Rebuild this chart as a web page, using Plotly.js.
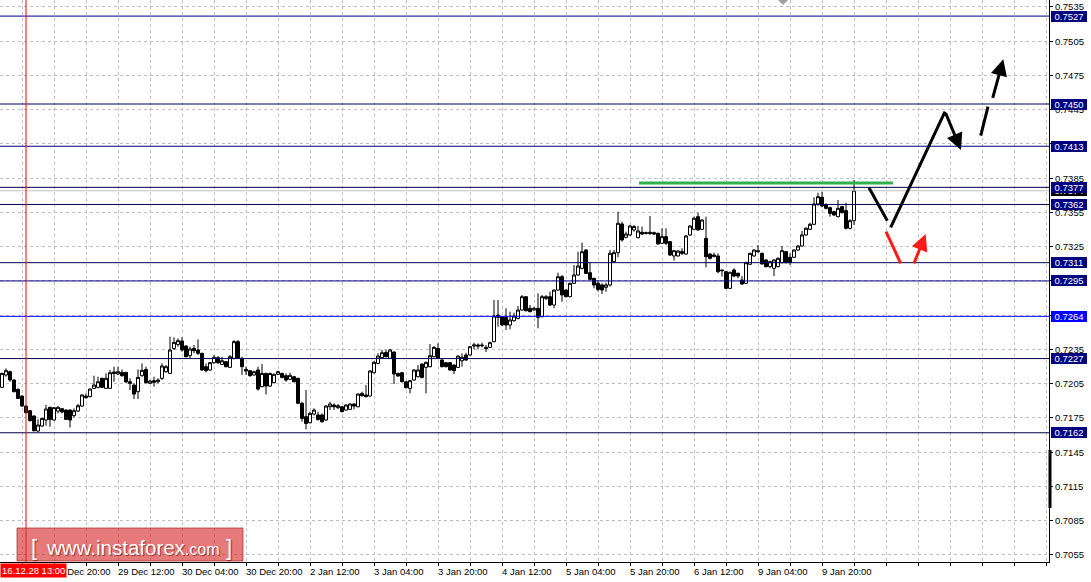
<!DOCTYPE html>
<html><head><meta charset="utf-8">
<script src="https://cdn.plot.ly/plotly-3.0.1.min.js"></script>
<style>html,body{margin:0;padding:0;background:#fff;overflow:hidden;} #chart{width:1091px;height:582px;}</style>
</head><body><div id="chart"></div>
<script>
// ---- Data (H1 candles) ----
const openP = [
0.72018,0.72126,0.72155,0.72082,0.72000,0.71942,0.71854,0.71813,0.71767,0.71635,
0.71679,0.71732,0.71843,0.71732,0.71810,0.71831,0.71819,0.71819,0.71770,0.71810,
0.71854,0.71942,0.71936,0.72009,0.72018,0.72097,0.72009,0.72009,0.72152,0.72135,
0.72149,0.72149,0.72067,0.72038,0.71980,0.72120,0.72175,0.72053,0.72076,0.72067,
0.72097,0.72155,0.72140,0.72359,0.72394,0.72424,0.72380,0.72295,0.72359,0.72345,
0.72316,0.72199,0.72170,0.72234,0.72278,0.72219,0.72243,0.72193,0.72272,0.72418,
0.72272,0.72175,0.72164,0.72126,0.72170,0.72024,0.72140,0.72029,0.72059,0.72132,
0.72140,0.72120,0.72088,0.72111,0.72097,0.71878,0.71761,0.71708,0.71784,0.71776,
0.71776,0.71732,0.71848,0.71863,0.71840,0.71848,0.71819,0.71825,0.71872,0.71848,
0.71965,0.71951,0.71942,0.72146,0.72228,0.72278,0.72324,0.72272,0.72327,0.72140,
0.72146,0.72067,0.72009,0.72082,0.72111,0.72222,0.72193,0.72199,0.72286,0.72359,
0.72257,0.72234,0.72234,0.72213,0.72193,0.72251,0.72301,0.72301,0.72380,0.72389,
0.72389,0.72368,0.72368,0.72418,0.72651,0.72637,0.72631,0.72564,0.72602,0.72622,
0.72695,0.72812,0.72710,0.72695,0.72710,0.72637,0.72797,0.72812,0.72739,0.72870,
0.72987,0.72870,0.72812,0.72929,0.73002,0.73060,0.73221,0.73022,0.72973,0.72929,
0.72915,0.72894,0.72915,0.73119,0.73198,0.73449,0.73332,0.73353,0.73396,0.73329,
0.73376,0.73373,0.73376,0.73373,0.73367,0.73280,0.73338,0.73294,0.73169,0.73169,
0.73207,0.73186,0.73353,0.73402,0.73513,0.73402,0.73323,0.73186,0.73163,0.73169,
0.73046,0.73031,0.72885,0.73046,0.73017,0.72958,0.72929,0.73096,0.73169,0.73215,
0.73192,0.73134,0.73075,0.73061,0.73075,0.73110,0.73207,0.73157,0.73157,0.73221,
0.73256,0.73353,0.73402,0.73446,0.73624,0.73683,0.73615,0.73592,0.73557,0.73513,
0.73601,0.73566,0.73411,0.73478];
const highP = [
0.72146,0.72184,0.72164,0.72088,0.72009,0.71948,0.71860,0.71819,0.71772,0.71738,
0.71752,0.71863,0.71848,0.71845,0.71854,0.71837,0.71825,0.71825,0.71834,0.71872,
0.71956,0.71965,0.72009,0.72120,0.72111,0.72102,0.72140,0.72170,0.72199,0.72199,
0.72175,0.72155,0.72097,0.72053,0.72175,0.72228,0.72199,0.72082,0.72111,0.72097,
0.72228,0.72213,0.72462,0.72456,0.72447,0.72456,0.72386,0.72374,0.72389,0.72438,
0.72321,0.72228,0.72240,0.72301,0.72292,0.72286,0.72248,0.72301,0.72432,0.72432,
0.72286,0.72199,0.72170,0.72164,0.72199,0.72222,0.72146,0.72146,0.72140,0.72164,
0.72146,0.72140,0.72146,0.72117,0.72102,0.71892,0.71994,0.71805,0.71834,0.71805,
0.71790,0.71863,0.71892,0.71878,0.71872,0.71854,0.71872,0.71878,0.71878,0.71965,
0.71980,0.72038,0.72170,0.72248,0.72316,0.72345,0.72345,0.72354,0.72333,0.72146,
0.72152,0.72073,0.72082,0.72176,0.72213,0.72228,0.72243,0.72397,0.72380,0.72403,
0.72272,0.72240,0.72240,0.72219,0.72298,0.72316,0.72321,0.72380,0.72409,0.72403,
0.72409,0.72389,0.72418,0.72783,0.72783,0.72643,0.72710,0.72681,0.72672,0.72730,
0.72827,0.72818,0.72739,0.72724,0.72841,0.72827,0.72827,0.72856,0.72876,0.73022,
0.73002,0.72876,0.72935,0.73089,0.73206,0.73285,0.73227,0.73110,0.72978,0.72958,
0.72929,0.72935,0.73221,0.73221,0.73557,0.73469,0.73382,0.73440,0.73440,0.73431,
0.73426,0.73382,0.73519,0.73382,0.73373,0.73411,0.73411,0.73300,0.73221,0.73221,
0.73236,0.73353,0.73440,0.73513,0.73548,0.73490,0.73513,0.73192,0.73198,0.73192,
0.73046,0.73037,0.73031,0.73061,0.73023,0.72993,0.73119,0.73198,0.73227,0.73265,
0.73198,0.73139,0.73128,0.73139,0.73157,0.73256,0.73212,0.73192,0.73227,0.73265,
0.73388,0.73420,0.73461,0.73683,0.73723,0.73732,0.73630,0.73601,0.73566,0.73659,
0.73607,0.73636,0.73490,0.73834];
const lowP = [
0.72012,0.72111,0.72067,0.71974,0.71916,0.71848,0.71790,0.71720,0.71632,0.71629,
0.71673,0.71682,0.71673,0.71726,0.71790,0.71790,0.71732,0.71667,0.71755,0.71802,
0.71848,0.71921,0.71930,0.72003,0.72009,0.72012,0.72003,0.72003,0.72067,0.72126,
0.72111,0.72059,0.71994,0.71916,0.71916,0.72111,0.72053,0.72047,0.72024,0.72053,
0.72082,0.72146,0.72135,0.72345,0.72374,0.72330,0.72281,0.72272,0.72316,0.72301,
0.72164,0.72149,0.72164,0.72222,0.72222,0.72213,0.72193,0.72190,0.72263,0.72266,
0.72126,0.72126,0.72111,0.72120,0.71989,0.72018,0.71956,0.72024,0.72053,0.72126,
0.72097,0.72067,0.72082,0.72062,0.71872,0.71717,0.71650,0.71702,0.71772,0.71726,
0.71708,0.71726,0.71819,0.71819,0.71828,0.71799,0.71813,0.71819,0.71825,0.71843,
0.71936,0.71930,0.71936,0.72140,0.72222,0.72272,0.72281,0.72266,0.72047,0.72111,
0.72062,0.72009,0.71965,0.72076,0.72105,0.72097,0.71965,0.72193,0.72281,0.72266,
0.72193,0.72193,0.72164,0.72135,0.72187,0.72199,0.72251,0.72295,0.72351,0.72351,
0.72368,0.72327,0.72362,0.72412,0.72549,0.72558,0.72520,0.72526,0.72593,0.72613,
0.72689,0.72683,0.72675,0.72689,0.72535,0.72631,0.72783,0.72730,0.72710,0.72865,
0.72768,0.72806,0.72806,0.72923,0.72996,0.73051,0.73011,0.72958,0.72885,0.72856,
0.72836,0.72856,0.72900,0.73110,0.73157,0.73294,0.73323,0.73344,0.73382,0.73323,
0.73353,0.73358,0.73353,0.73353,0.73268,0.73274,0.73265,0.73169,0.73128,0.73163,
0.73177,0.73180,0.73344,0.73396,0.73391,0.73396,0.73069,0.73139,0.73157,0.73017,
0.72988,0.72880,0.72880,0.72982,0.72973,0.72915,0.72923,0.73090,0.73163,0.73198,
0.73093,0.73069,0.73061,0.72993,0.73069,0.73104,0.73104,0.73090,0.73151,0.73215,
0.73250,0.73347,0.73396,0.73440,0.73607,0.73595,0.73577,0.73513,0.73519,0.73507,
0.73542,0.73402,0.73402,0.73440];
const closeP = [
0.72140,0.72164,0.72082,0.71980,0.71921,0.71854,0.71796,0.71726,0.71638,0.71688,
0.71746,0.71828,0.71737,0.71840,0.71843,0.71802,0.71737,0.71732,0.71813,0.71857,
0.71951,0.71927,0.72003,0.72038,0.72067,0.72018,0.72097,0.72146,0.72140,0.72155,
0.72120,0.72065,0.72053,0.71959,0.72105,0.72167,0.72059,0.72073,0.72062,0.72082,
0.72205,0.72199,0.72345,0.72412,0.72427,0.72345,0.72286,0.72354,0.72339,0.72316,
0.72170,0.72164,0.72234,0.72281,0.72234,0.72251,0.72199,0.72286,0.72418,0.72272,
0.72199,0.72161,0.72120,0.72155,0.72003,0.72140,0.72029,0.72140,0.72132,0.72155,
0.72105,0.72082,0.72123,0.72067,0.71878,0.71746,0.71702,0.71790,0.71819,0.71737,
0.71717,0.71854,0.71872,0.71848,0.71857,0.71805,0.71863,0.71872,0.71854,0.71959,
0.71945,0.71936,0.72161,0.72237,0.72292,0.72321,0.72286,0.72345,0.72135,0.72117,
0.72067,0.72015,0.72076,0.72170,0.72170,0.72105,0.72237,0.72295,0.72368,0.72272,
0.72199,0.72199,0.72170,0.72164,0.72292,0.72281,0.72257,0.72374,0.72389,0.72380,
0.72383,0.72359,0.72409,0.72643,0.72631,0.72564,0.72564,0.72608,0.72643,0.72695,
0.72812,0.72689,0.72681,0.72710,0.72631,0.72812,0.72812,0.72739,0.72870,0.72987,
0.72827,0.72812,0.72929,0.73002,0.73081,0.73206,0.73016,0.72964,0.72914,0.72876,
0.72871,0.72915,0.73192,0.73198,0.73455,0.73309,0.73361,0.73431,0.73426,0.73388,
0.73361,0.73367,0.73367,0.73361,0.73274,0.73338,0.73280,0.73177,0.73215,0.73212,
0.73192,0.73344,0.73431,0.73499,0.73396,0.73484,0.73163,0.73148,0.73177,0.73031,
0.73040,0.72885,0.73026,0.72993,0.72993,0.72923,0.73110,0.73192,0.73221,0.73207,
0.73099,0.73075,0.73119,0.73134,0.73148,0.73215,0.73110,0.73110,0.73221,0.73256,
0.73353,0.73411,0.73446,0.73624,0.73688,0.73607,0.73586,0.73542,0.73528,0.73586,
0.73548,0.73411,0.73478,0.73741];
const barIndex = openP.map((_, i) => i);

// price scale ticks
const yTickVals = [0.7055,0.7085,0.7115,0.7145,0.7175,0.7205,0.7235,0.7265,0.7295,0.7325,0.7355,0.7385,0.7415,0.7445,0.7475,0.7505,0.7535];
const yTickText = ["0.7055","0.7085","0.7115","0.7145","0.7175","0.7205","0.7235","","","0.7325","0.7355","0.7385","","0.7445","0.7475","0.7505","0.7535"];

// time axis labels (every 16 H1 bars)
const timeLabels = ["28 Dec 20:00","29 Dec 12:00","30 Dec 04:00","30 Dec 20:00","2 Jan 12:00","3 Jan 04:00",
  "3 Jan 20:00","4 Jan 12:00","5 Jan 04:00","5 Jan 20:00","6 Jan 12:00","9 Jan 04:00","9 Jan 20:00"];
const timeLabelBars = [13,29,45,61,77,93,109,125,141,157,173,189,205];
const crossBar = 6;                 // 28 Dec 13:00 (red vertical line)
const crossLabel = "16.12.28 13:00";

// horizontal levels
const levelValues = [0.7527, 0.7450, 0.7413, 0.7377, 0.7362, 0.7311, 0.7295, 0.7264, 0.7227, 0.7162];
const levelLineColors = ["#00008c","#000050","#00008c","#000050","#000050","#000050","#00008c","#0000ff","#000050","#000050"];
const levelBoxColors = ["#000080","#000080","#000080","#000080","#000080","#000080","#000080","#0000ff","#000080","#000080"];
const bidPrice = 0.7374;

// drawn forecast (bar index, price)
const greenLine = {bars: [159.25, 222.75], prices: [0.73808, 0.73808]};
const blackSegA = {bars: [216.75, 221.33], prices: [0.73767, 0.73478]};
const blackSegB = {bars: [222.18, 235.75], prices: [0.73420, 0.74433]};
const blackArrowC = {bars: [235.75, 239.75], prices: [0.74433, 0.74097]};
const dashSegD = {bars: [244.68, 246.5], prices: [0.74222, 0.74476]};
const dashArrowE = {bars: [247.58, 250.33], prices: [0.74541, 0.74892]};
const redSeg = {bars: [221.0, 224.68], prices: [0.73381, 0.73104]};
const redArrow = {bars: [227.83, 230.93], prices: [0.73090, 0.73361]};

// ---- layout helpers ----
const W = 1049, H = 562;
const px = v => v / W;
const py = v => 1 - v / H;
const FONT = "Liberation Sans, Arial, sans-serif";

const trace = {
  type: 'candlestick', x: barIndex, open: openP, high: highP, low: lowP, close: closeP,
  increasing: {line: {color: '#000', width: 1}, fillcolor: '#fff'},
  decreasing: {line: {color: '#000', width: 1}, fillcolor: '#000'},
  whiskerwidth: 0, hoverinfo: 'skip', showlegend: false
};

const shapes = [];
levelValues.forEach((v, i) => shapes.push({type: 'line', xref: 'paper', yref: 'y', x0: 0, x1: 1, y0: v, y1: v,
  line: {color: levelLineColors[i], width: 1}}));
shapes.push({type: 'line', xref: 'paper', yref: 'y', x0: 0, x1: 1, y0: bidPrice, y1: bidPrice, line: {color: '#c0c0c0', width: 1}});
shapes.push({type: 'line', xref: 'x', yref: 'paper', x0: crossBar, x1: crossBar, y0: 0, y1: 1, line: {color: '#ff0000', width: 1}});
function seg(s, color) {
  shapes.push({type: 'line', xref: 'x', yref: 'y', x0: s.bars[0], x1: s.bars[1], y0: s.prices[0], y1: s.prices[1],
    line: {color: color, width: 3}});
}
shapes.push({type: 'line', xref: 'x', yref: 'y', x0: greenLine.bars[0], x1: greenLine.bars[1],
  y0: greenLine.prices[0], y1: greenLine.prices[1], line: {color: '#33b04c', width: 3}});
seg(blackSegA, '#000'); seg(blackSegB, '#000'); seg(dashSegD, '#000'); seg(redSeg, '#ff1a1a');
// thick marker on price scale
shapes.push({type: 'line', xref: 'paper', yref: 'paper', x0: px(1050), x1: px(1050), y0: py(508), y1: py(450),
  line: {color: '#000', width: 3}});
// small grey shift triangle at top
shapes.push({type: 'path', xref: 'paper', yref: 'paper',
  path: `M ${px(778)} ${py(0)} L ${px(788)} ${py(0)} L ${px(783)} ${py(5)} Z`, fillcolor: '#a0a0a0', line: {width: 0}});
// watermark box
shapes.push({type: 'rect', xref: 'paper', yref: 'paper', x0: px(17), x1: px(243), y0: py(561), y1: py(528),
  fillcolor: 'rgba(214,40,40,0.62)', line: {color: 'rgba(170,40,40,0.7)', width: 1}});

const annotations = [];
function arrow(a, color) {
  annotations.push({xref: 'x', yref: 'y', axref: 'x', ayref: 'y', x: a.bars[1], y: a.prices[1], ax: a.bars[0], ay: a.prices[0],
    text: '', showarrow: true, arrowhead: 2, arrowsize: 1.1, arrowwidth: 3, arrowcolor: color, standoff: 0, startstandoff: 0});
}
arrow(blackArrowC, '#000'); arrow(dashArrowE, '#000'); arrow(redArrow, '#ff1a1a');

// x labels
timeLabels.forEach((t, i) => annotations.push({xref: 'x', yref: 'paper', x: timeLabelBars[i], y: 0, xanchor: 'left', yanchor: 'top',
  yshift: -2, xshift: -2, text: t, showarrow: false, font: {family: FONT, size: 9.5, color: '#000'}}));
annotations.push({xref: 'paper', yref: 'paper', x: 0, y: 0, xanchor: 'left', yanchor: 'top', yshift: -1,
  text: crossLabel, showarrow: false, bgcolor: '#ff0000', borderpad: 1, font: {family: FONT, size: 9.5, color: '#fff'}});

// price boxes (bid first so level boxes cover it)
function priceBox(v, bg) {
  annotations.push({xref: 'paper', yref: 'y', x: px(1051), y: v, xanchor: 'left', yanchor: 'middle',
    text: v.toFixed(4), showarrow: false, bgcolor: bg, bordercolor: bg, borderwidth: 1, borderpad: 0,
    width: 34, height: 9, align: 'center', font: {family: FONT, size: 9.5, color: '#fff'}});
}
priceBox(bidPrice, '#000');
levelValues.forEach((v, i) => priceBox(v, levelBoxColors[i]));

// watermark text
const wmFont = {family: FONT, color: '#fff', shadow: '1px 1px 1px rgba(90,0,0,0.6)'};
annotations.push({xref: 'paper', yref: 'paper', x: px(34), y: py(547), xanchor: 'center', yanchor: 'middle', showarrow: false,
  text: '[', font: Object.assign({size: 22}, wmFont)});
annotations.push({xref: 'paper', yref: 'paper', x: px(44), y: py(547), xanchor: 'left', yanchor: 'middle', showarrow: false,
  text: 'www.instaforex<span style="font-size:16px">.com</span>', font: Object.assign({size: 20.5}, wmFont)});
annotations.push({xref: 'paper', yref: 'paper', x: px(229), y: py(547), xanchor: 'center', yanchor: 'middle', showarrow: false,
  text: ']', font: Object.assign({size: 22}, wmFont)});

const layout = {
  width: 1091, height: 582, margin: {l: 0, r: 42, t: 0, b: 20, pad: 0},
  paper_bgcolor: '#fff', plot_bgcolor: '#fff', showlegend: false,
  boxgap: 0.25, boxgroupgap: 0,
  font: {family: FONT, size: 9.5, color: '#000'},
  xaxis: {range: [-0.5, 261.75], rangeslider: {visible: false}, tickmode: 'linear', tick0: 5, dtick: 8,
    showticklabels: false, ticks: 'outside', ticklen: 3, tickcolor: '#000', showgrid: true, gridcolor: '#c0c0c0',
    griddash: '3px,3px', gridwidth: 1, showline: true, linecolor: '#000', linewidth: 1, zeroline: false, fixedrange: true},
  yaxis: {range: [0.70488, 0.75411], side: 'right', tickmode: 'array', tickvals: yTickVals, ticktext: yTickText,
    ticks: 'outside', ticklen: 3, tickcolor: '#000', showgrid: true, gridcolor: '#c0c0c0', griddash: '3px,3px', gridwidth: 1,
    showline: true, linecolor: '#000', linewidth: 1, zeroline: false, fixedrange: true,
    tickfont: {family: FONT, size: 9.5, color: '#000'}},
  shapes: shapes, annotations: annotations
};
Plotly.newPlot('chart', [trace], layout, {displayModeBar: false, staticPlot: true});
</script></body></html>
